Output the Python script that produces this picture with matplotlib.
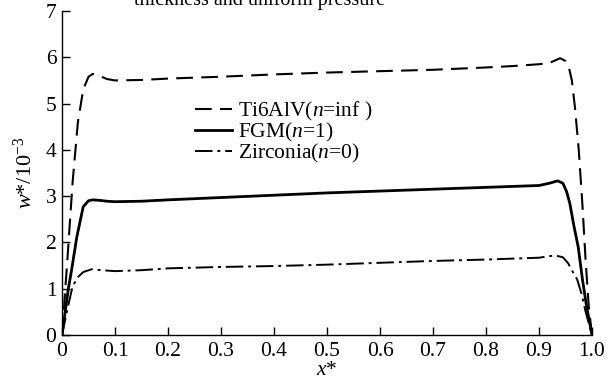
import matplotlib
matplotlib.use("Agg")
import matplotlib.pyplot as plt

plt.rcParams['font.family'] = ['Liberation Serif', 'DejaVu Serif']
plt.rcParams['mathtext.fontset'] = 'custom'
plt.rcParams['mathtext.rm'] = 'Liberation Serif'
plt.rcParams['mathtext.it'] = 'Liberation Serif:italic'

x_ti = [0, 0.01, 0.02, 0.03, 0.04, 0.05, 0.058, 0.07, 0.085, 0.1, 0.15, 0.2, 0.3, 0.4, 0.5,
        0.6, 0.7, 0.8, 0.85, 0.9, 0.92, 0.94, 0.95, 0.957, 0.962, 0.968, 0.975, 0.982, 0.988,
        0.994, 1.0]
w_ti = [0, 1.6, 3.3, 4.6, 5.3, 5.58, 5.64, 5.6, 5.53, 5.5, 5.51, 5.54, 5.58, 5.63, 5.67,
        5.7, 5.73, 5.78, 5.81, 5.85, 5.88, 5.98, 5.92, 5.75, 5.5, 4.9, 4.0, 2.8, 1.6,
        0.6, 0]

x_fgm = [0, 0.012, 0.018, 0.028, 0.04, 0.05, 0.058, 0.07, 0.085, 0.1, 0.15, 0.2, 0.3, 0.4,
         0.5, 0.6, 0.7, 0.8, 0.85, 0.9, 0.92, 0.935, 0.945, 0.952, 0.958, 0.966, 0.974,
         0.982, 0.99, 1.0]
w_fgm = [0, 1.0, 1.4, 2.12, 2.77, 2.9, 2.92, 2.91, 2.89, 2.88, 2.89, 2.92, 2.97, 3.02,
         3.07, 3.11, 3.15, 3.19, 3.21, 3.23, 3.28, 3.33, 3.28, 3.1, 2.85, 2.35, 1.9,
         1.2, 0.6, 0]

x_zr = [0, 0.01, 0.02, 0.03, 0.04, 0.056, 0.075, 0.1, 0.15, 0.2, 0.3, 0.4, 0.5, 0.6, 0.7,
        0.8, 0.9, 0.93, 0.945, 0.955, 0.962, 0.972, 0.98, 0.988, 1.0]
w_zr = [0, 0.55, 1.05, 1.25, 1.36, 1.42, 1.40, 1.38, 1.40, 1.44, 1.47, 1.49, 1.52, 1.56, 1.6,
        1.63, 1.67, 1.72, 1.68, 1.55, 1.40, 1.2, 0.9, 0.5, 0]

labels = [r'Ti6AlV($n$=inf )', r'FGM($n$=1)', r'Zirconia($n$=0)']
x_ticks = [0, 0.1, 0.2, 0.3, 0.4, 0.5, 0.6, 0.7, 0.8, 0.9, 1.0]
x_ticklabels = ['0', '0.1', '0.2', '0.3', '0.4', '0.5', '0.6', '0.7', '0.8', '0.9', '1.0']
y_ticks = [0, 1, 2, 3, 4, 5, 6, 7]

fig = plt.figure(figsize=(6.14, 3.79), dpi=100)
ax = fig.add_axes([62/614, 44/379, 530/614, 324/379])

ax.plot(x_ti, w_ti, color='black', lw=1.5, linestyle=(0, (8, 4)), label=labels[0])
ax.plot(x_fgm, w_fgm, color='black', lw=2.0, linestyle='-', label=labels[1])
ax.plot(x_zr, w_zr, color='black', lw=1.4, linestyle=(0, (9, 2.5, 1.5, 2.5)), label=labels[2])

ax.set_xlim(0, 1.0)
ax.set_ylim(0, 7)
ax.set_xticks(x_ticks)
ax.set_xticklabels(x_ticklabels)
ax.set_yticks(y_ticks)
for s in ['top', 'right']:
    ax.spines[s].set_visible(False)
for s in ['left', 'bottom']:
    ax.spines[s].set_linewidth(1.0)
ax.tick_params(direction='in', length=6, width=1.0, labelsize=15.5, pad=4)
ax.tick_params(axis='x', pad=5)

ax.set_xlabel(r'$x$*', fontsize=15.5, labelpad=0)
ax.set_ylabel(r'$w$*/10$^{-3}$', fontsize=16, labelpad=6)

ax.legend(loc='upper left', bbox_to_anchor=(195/614, 1 - 100/379),
          bbox_transform=fig.transFigure, frameon=False, fontsize=15.5,
          handlelength=1.7, handletextpad=0.3, labelspacing=-0.1, borderpad=0,
          borderaxespad=0)

fig.text(260/614, 1 - 5/379, 'thickness and uniform pressure', fontsize=14.5,
         ha='center', va='baseline')

fig.savefig('out.png', dpi=100)
